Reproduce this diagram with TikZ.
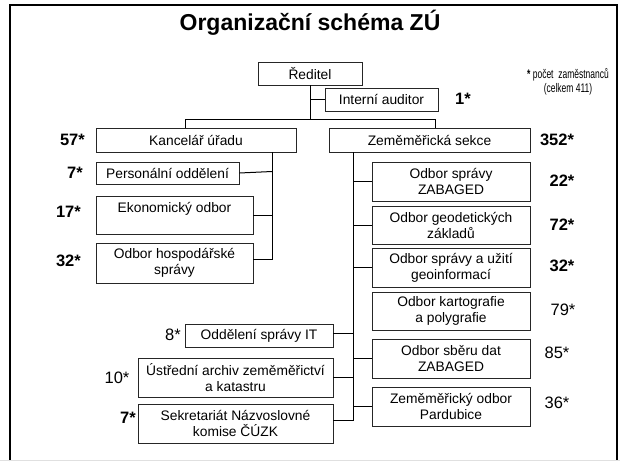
\documentclass[tikz,border=0pt]{standalone}
\usepackage{fontspec}
\setmainfont{Liberation Sans}
\newfontfamily\narrowsans[FakeStretch=0.68]{Liberation Sans}
\usetikzlibrary{positioning}
\begin{document}
\begin{tikzpicture}[
    x=1pt, y=-1pt,
    unit/.style={rectangle, draw=black!85, line width=0.8pt, fill=white, inner sep=0pt, align=center, font=\fontsize{13.8}{16}\selectfont},
    count/.style={inner sep=0pt, font=\fontsize{16.5}{18}\selectfont\bfseries},
    countlight/.style={inner sep=0pt, font=\fontsize{16.5}{18}\selectfont},
    link/.style={line width=1pt},
]
\useasboundingbox (0,0) rectangle (620,461);
\draw[line width=2.5pt] (10,461) -- (10,5) -- (617,5) -- (617,461);
\draw[black!12] (0,460.5) -- (620,460.5);

\node[font=\fontsize{23}{26}\selectfont\bfseries] (title) at (310,23) {Organizační schéma ZÚ};
\node[align=center, font=\fontsize{12.5}{13.5}\narrowsans] (note) at (568,82) {{\bfseries *} počet\ \ zaměstnanců\\(celkem 411)};

% vedeni
\node[unit, minimum width=104pt, minimum height=23pt] (reditel) at (310,73.5) {Ředitel};
\node[unit, minimum width=113pt, minimum height=23pt] (auditor) at (381.5,99.5) {Interní auditor};
\node[count] (nauditor) at (463,99) {1*};

% kancelar uradu
\node[unit, minimum width=200pt, minimum height=24pt] (kancelar) at (196,140) {Kancelář úřadu};
\node[unit, minimum width=143pt, minimum height=22pt] (personal) at (167.5,173) {Personální oddělení};
\node[unit, minimum width=157pt, minimum height=38pt] (ekonom) at (174.5,215) {Ekonomický odbor\\~};
\node[unit, minimum width=157pt, minimum height=40pt] (hosp) at (174.5,263) {Odbor hospodářské\\správy};

\node[count, anchor=east] (nkancelar) at (85,140) {57*};
\node[count, anchor=east] (npersonal) at (83,173) {7*};
\node[count, anchor=east] (nekonom) at (81,212) {17*};
\node[count, anchor=east] (nhosp) at (81,261) {32*};

% zememericka sekce
\node[unit, minimum width=201pt, minimum height=24pt] (sekce) at (429.5,140) {Zeměměřická sekce};
\node[unit, minimum width=158pt, minimum height=39pt] (zabaged) at (451,181.5) {Odbor správy\\ZABAGED};
\node[unit, minimum width=158pt, minimum height=38pt] (geodet) at (451,225) {Odbor geodetických\\základů};
\node[unit, minimum width=158pt, minimum height=39pt] (geoinf) at (451,267.5) {Odbor správy a užití\\geoinformací};
\node[unit, minimum width=158pt, minimum height=38pt] (karto) at (451,311) {Odbor kartografie\\a polygrafie};
\node[unit, minimum width=158pt, minimum height=39pt] (sber) at (451,358.5) {Odbor sběru dat\\ZABAGED};
\node[unit, minimum width=158pt, minimum height=39pt] (pardub) at (451,406.5) {Zeměměřický odbor\\Pardubice};

\node[count] (nsekce) at (557,140) {352*};
\node[count] (nzabaged) at (562,181) {22*};
\node[count] (ngeodet) at (562,225) {72*};
\node[count] (ngeoinf) at (562,266) {32*};
\node[countlight] (nkarto) at (563,310) {79*};
\node[countlight] (nsber) at (557,353) {85*};
\node[countlight] (npardub) at (557,403) {36*};

\node[unit, minimum width=148pt, minimum height=23pt] (it) at (259,335.5) {Oddělení správy IT};
\node[unit, minimum width=195pt, minimum height=39pt] (archiv) at (235.5,377.5) {Ústřední archiv zeměměřictví\\a katastru};
\node[unit, minimum width=195pt, minimum height=39pt] (sekret) at (235.5,423.5) {Sekretariát Názvoslovné\\komise ČÚZK};

\node[countlight] (nit) at (173,335) {8*};
\node[countlight] (narchiv) at (117,378) {10*};
\node[count] (nsekret) at (128,418) {7*};

% spojnice
\coordinate (busL) at (185,119);
\coordinate (busR) at (435,119);
\coordinate (kspine) at (272,152);
\coordinate (sspine) at (353,152);

\draw[link] (reditel.south) -- (reditel.south |- busL);
\draw[link] (reditel.south |- auditor.west) -- (auditor.west);
\draw[link] (kancelar.north -| busL) -- (busL) -- (busR) -- (sekce.north -| busR);

\draw[link] (kspine) |- ([yshift=4pt]hosp.east);
\draw[link] (personal.east) -- ([yshift=1.5pt]personal.east -| kspine);
\draw[link] (ekonom.east) -- (ekonom.east -| kspine);

\draw[link] (sspine) |- ([yshift=3.5pt]sekret.east);
\foreach \n in {zabaged, geodet, geoinf, sber, pardub}
    \draw[link] (sspine |- \n.west) -- (\n.west);
\draw[link] ([yshift=2.5pt]it.east) -- ([yshift=2.5pt]it.east -| sspine);
\draw[link] (archiv.east) -- (archiv.east -| sspine);

\end{tikzpicture}
\end{document}
